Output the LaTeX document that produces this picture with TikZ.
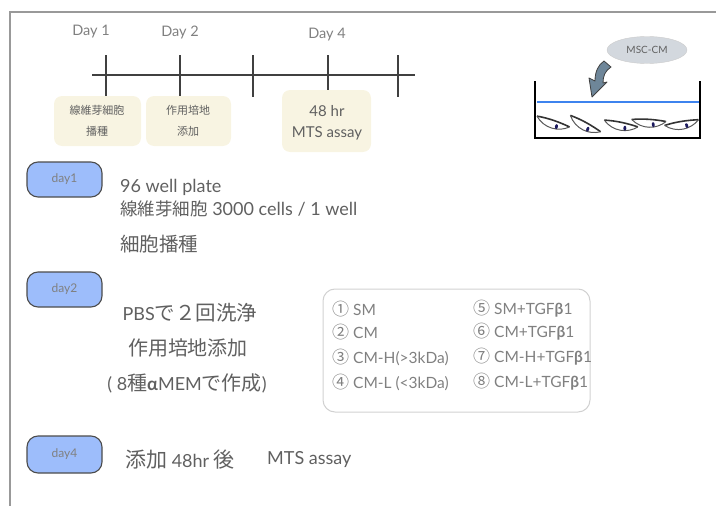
\documentclass[tikz,border=0pt]{standalone}
\usepackage{fontspec}
\usepackage{xcolor}
\setmainfont{Lato}
\newfontfamily\jp{Noto Sans CJK JP}
\usetikzlibrary{shapes.geometric}

\definecolor{txtgray}{HTML}{606060}
\definecolor{lightgray}{HTML}{808080}
\definecolor{cream}{HTML}{F8F4E2}
\definecolor{daybl}{HTML}{9DBDFB}
\definecolor{medium}{HTML}{3D83EE}
\definecolor{cmgray}{HTML}{D3D8DE}
\definecolor{arrowbl}{HTML}{6E8699}
\definecolor{nucleus}{HTML}{1C1A5E}

\newcommand{\fs}[1]{\fontsize{#1}{#1}\selectfont}
\newcommand{\jtxt}[1]{{\jp #1}}

\tikzset{
  daytag/.style={draw=black!70, fill=daybl, line width=1.1pt, rounded corners=11pt,
    minimum width=75pt, minimum height=35pt, text=black!50, font=\fs{12}},
  stepnote/.style={fill=cream, rounded corners=8pt, minimum width=87pt, minimum height=50pt},
  small/.style={text=txtgray, font=\fs{11}, inner sep=0pt},
  body/.style={text=txtgray, font=\fs{18}, anchor=west, inner sep=0pt},
  cond/.style={text=lightgray, font=\fs{15.5}, anchor=west, inner sep=0pt},
  tick/.style={line width=1.2pt, black!75},
}

\begin{document}
\begin{tikzpicture}[x=1pt, y=-1pt]
        \useasboundingbox (0,0) rectangle (716,506);

        % Frame
        \draw[black!40, line width=2pt] (10,506) -- (10,12) -- (716,12);

        % Timeline
        \coordinate (t0) at (92,75);
        \coordinate (t1) at (415,75);
        \draw[tick] (t0) -- (t1);
        \foreach \x in {106,180,253,328,398}
          \draw[tick] (\x,55) -- (\x,97);
        \node[text=lightgray, font=\fs{14.5}] (D1) at (91,32) {Day 1};
        \node[text=lightgray, font=\fs{14.5}] (D2) at (180,32) {Day 2};
        \node[text=lightgray, font=\fs{14.5}] (D4) at (327,35) {Day 4};

        % Notes under the timeline
        \node[stepnote] (N1) at (97.5,121) {};
        \node[stepnote, minimum width=85pt] (N2) at (188.5,121) {};
        \node[stepnote, minimum width=89pt, minimum height=62pt] (N4) at (326.5,121) {};
        \node[small] (n1a) at (97,110) {\jtxt{線維芽細胞}};
        \node[small] (n1b) at (97,131) {\jtxt{播種}};
        \node[small] (n2a) at (188,110) {\jtxt{作用培地}};
        \node[small] (n2b) at (188,131) {\jtxt{添加}};
        \node[small, font=\fs{15}] (n4a) at (327,111) {48 hr};
        \node[small, font=\fs{15}] (n4b) at (327,133) {MTS assay};

        % Well with fibroblasts
        \node[ellipse, fill=cmgray, draw=black!20, minimum width=80pt, minimum height=27pt,
          text=txtgray, font=\fs{10}, inner sep=0pt] (MSC) at (647,50) {MSC-CM};
        \fill[arrowbl, draw=black!75, line width=0.8pt, line join=round]
          (604,61) -- (611,67) .. controls (605,71) and (603,76) .. (603,83)
          -- (607,82) -- (592,97) -- (589,78) -- (595,81)
          .. controls (595,72) and (598,65) .. cycle;
        \draw[black, line width=2pt] (535,81) -- (535,138) -- (700,138) -- (700,81);
        \draw[medium, line width=2.5pt] (537,102) -- (699,102);
        \foreach \cx/\cy/\ang in {553/123/-10, 585/125/-20, 621/125/-3, 649/122/5, 682/124/18} {
          \begin{scope}[shift={(\cx,\cy)}, rotate=\ang]
            \draw[black!80, line width=1.6pt, line join=round]
              (-17,-4) .. controls (-5,-4) and (6,-2) .. (17,1);
            \draw[black!65, line width=1pt]
              (-17,-4) .. controls (-8,7) and (7,8) .. (17,1);
            \fill[nucleus] (4,3) ellipse (1.5pt and 2.5pt);
          \end{scope}
        }

        % day1
        \node[daytag] (day1) at (64.5,179.5) {day1};
        \node[body] (p1) at (120,187) {96 well plate};
        \node[body] (p2) at (120,209) {\jtxt{\fs{17.5}線維芽細胞} 3000 cells / 1 well};
        \node[body] (p3) at (120,244) {\jtxt{\fs{19.5}細胞播種}};

        % day2
        \node[daytag] (day2) at (64.5,289.5) {day2};
        \node[body, anchor=center] (q1) at (190,313) {PBS\jtxt{\fs{20.5}で２回洗浄}};
        \node[body, anchor=center] (q2) at (188,348) {\jtxt{\fs{20}作用培地添加}};
        \node[body, anchor=center] (q3) at (187,383) {( 8\jtxt{\fs{20}種}\textbf{α}MEM\jtxt{\fs{20}で作成})};

        \node[draw=black!18, line width=1pt, rounded corners=12pt, minimum width=267pt,
          minimum height=123pt] (conds) at (456.5,350.5) {};
        \node[cond] (c1) at (332,309) {\jtxt{\fs{17}①} SM};
        \node[cond] (c2) at (332,332) {\jtxt{\fs{17}②} CM};
        \node[cond] (c3) at (332,357) {\jtxt{\fs{17}③} CM-H(>3kDa)};
        \node[cond] (c4) at (332,382) {\jtxt{\fs{17}④} CM-L (<3kDa)};
        \node[cond] (c5) at (473,309) {\jtxt{\fs{17}⑤} SM+TGF\textbf{β}1};
        \node[cond] (c6) at (473,332) {\jtxt{\fs{17}⑥} CM+TGF\textbf{β}1};
        \node[cond] (c7) at (473,357) {\jtxt{\fs{17}⑦} CM-H+TGF\textbf{β}1};
        \node[cond] (c8) at (473,382) {\jtxt{\fs{17}⑧} CM-L+TGF\textbf{β}1};

        % day4
        \node[daytag, minimum height=37pt] (day4) at (64.5,454.5) {day4};
        \node[body] (r1) at (125,460) {\jtxt{\fs{21}添加} 48hr \jtxt{\fs{21}後}};
        \node[body] (r2) at (267,460) {MTS assay};
    \end{tikzpicture}
\end{document}
